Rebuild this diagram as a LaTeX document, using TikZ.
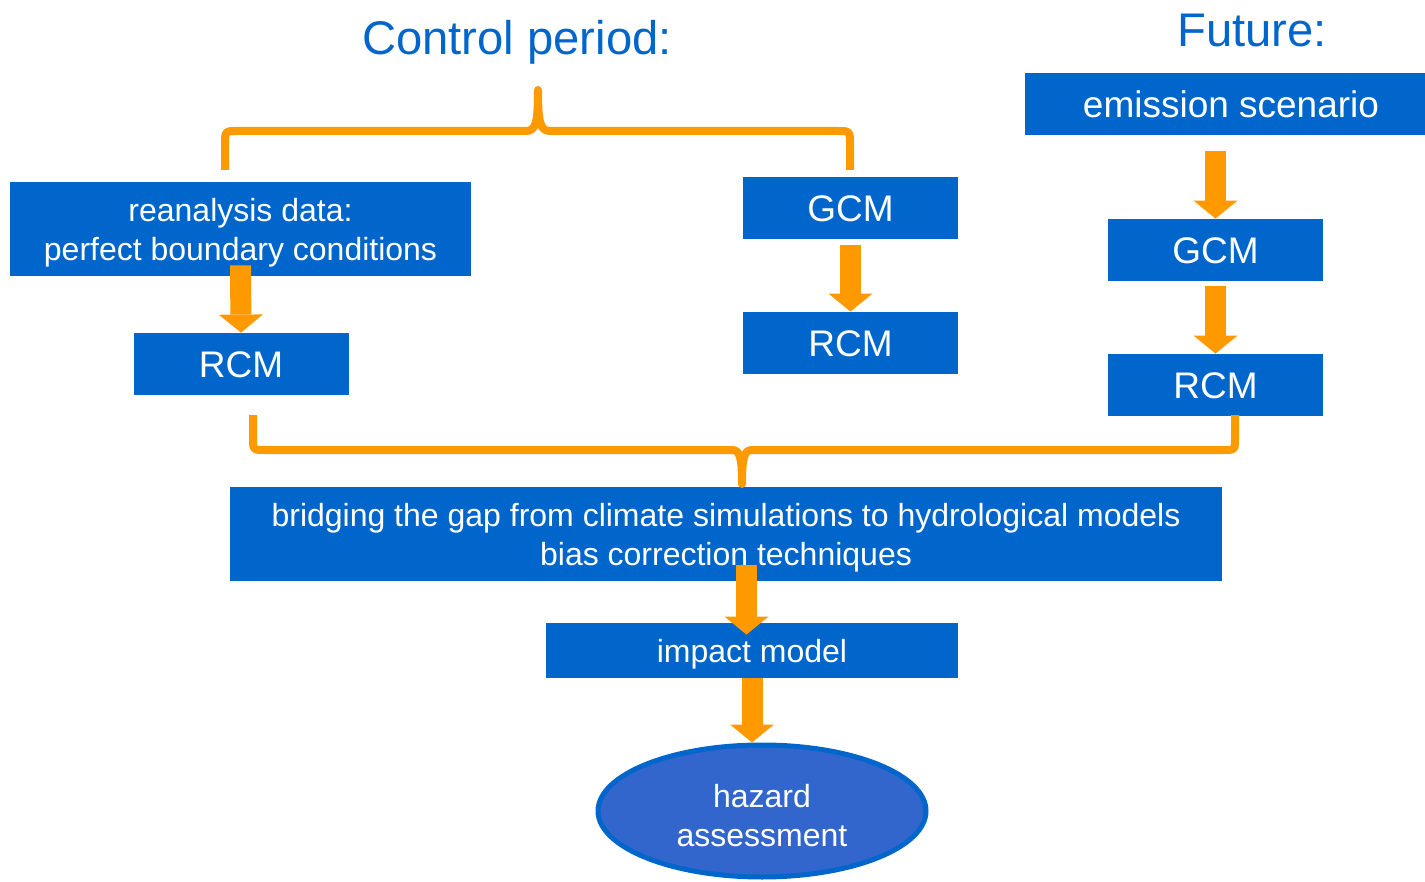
\documentclass[tikz,border=0pt]{standalone}
\usepackage{fontspec}
\setmainfont{Liberation Sans}
\usetikzlibrary{arrows.meta,shapes.geometric}
\definecolor{boxblue}{HTML}{0066CC}
\definecolor{ellblue}{HTML}{3366CC}
\definecolor{orng}{HTML}{FF9900}
\tikzstyle{block} = [rectangle, fill=boxblue, text=white, align=center,
    inner sep=0pt, minimum width=107.5pt, minimum height=31pt,
    font=\fontsize{18.5}{22}\selectfont, text height=13.2pt, text depth=-1pt]
\tikzstyle{smallblock} = [block, font=\fontsize{16}{19.5}\selectfont,
    text height=, text depth=-0.6pt]
\tikzstyle{heading} = [text=boxblue, anchor=base, font=\fontsize{23.6}{28}\selectfont]
\tikzstyle{line} = [draw=orng, color=orng, line width=10.5pt,
    -{Triangle[width=22pt,length=9pt,line width=0pt]}]
\tikzstyle{brace} = [draw=orng, line width=4pt, line join=round]

\begin{document}
\begin{tikzpicture}[x=0.5pt, y=-0.5pt]
    \useasboundingbox (0,0) rectangle (1425,882);
    % Place nodes
    \node [heading] (ctrl) at (517,55) {Control period:};
    \node [heading] (fut) at (1252,47) {Future:};
    \node [block, minimum width=200pt] (emis) at (1225,104) {\hspace*{6pt}emission scenario};
    \node [block] (gcmF) at (1215.5,250) {GCM};
    \node [block] (rcmF) at (1215.5,385) {RCM};
    \node [smallblock, minimum width=230.5pt, minimum height=47pt] (rean) at (240.5,229) {reanalysis data:\\perfect boundary conditions};
    \node [block] (rcmA) at (241,364) {RCM};
    \node [block] (gcmC) at (850.5,208) {GCM};
    \node [block] (rcmC) at (850.5,343) {RCM};
    \node [smallblock, minimum width=496pt, minimum height=47pt] (bridge) at (726,534) {bridging the gap from climate simulations to hydrological models\\bias correction techniques};
    \node [smallblock, minimum width=206pt, minimum height=27.5pt,
        text height=12.3pt, text depth=0pt] (impact) at (752,650.5) {impact model};
    \node [ellipse, fill=ellblue, draw=boxblue, line width=2.5pt, text=white, align=center,
        inner sep=0pt, minimum width=164pt, minimum height=66pt, text height=36pt,
        font=\fontsize{16}{19.5}\selectfont] (hazard) at (762,811) {hazard\\assessment};
    % Braces
    \path [brace] (225,170) -- (225,145) .. controls (225,131) .. (237,131) -- (526,131)
        .. controls (536,131) and (538,122) .. (538,90)
        .. controls (538,122) and (540,131) .. (550,131) -- (838,131)
        .. controls (850,131) .. (850,145) -- (850,170);
    \path [brace] (253,415) -- (253,438) .. controls (253,450) .. (265,450) -- (732,450)
        .. controls (740,450) and (742,458) .. (742,484)
        .. controls (742,458) and (744,450) .. (752,450) -- (1223,450)
        .. controls (1235,450) .. (1235,438) -- (1235,415);
    % Draw edges
    \path [line] ([yshift=5.5pt]rean.south) -- (rcmA.north);
    \path [line] ([yshift=-3pt]gcmC.south) -- (gcmC.south |- rcmC.north);
    \path [line] ([yshift=-8pt]gcmF.north |- emis.south) -- (gcmF.north);
    \path [line] ([yshift=-2.5pt]gcmF.south) -- (rcmF.north);
    \path [line] ([xshift=10.25pt,yshift=8pt]bridge.south) -- ([xshift=-2.75pt,yshift=-6pt]impact.north);
    \path [line] (impact.south) -- (impact.south |- hazard.north);
\end{tikzpicture}
\end{document}
